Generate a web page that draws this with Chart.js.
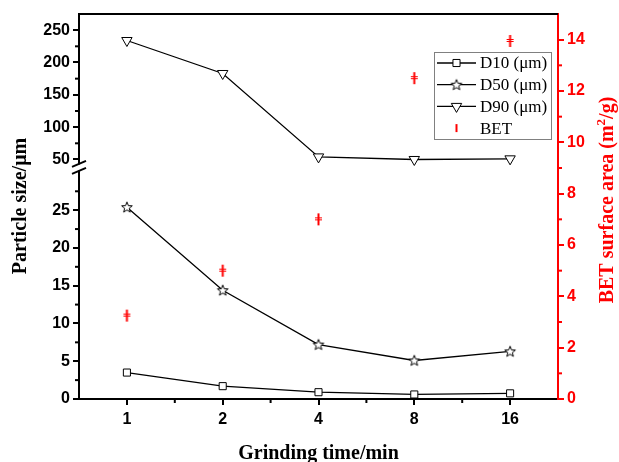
<!DOCTYPE html>
<html>
<head>
<meta charset="utf-8">
<script src="https://cdn.jsdelivr.net/npm/chart.js@4/dist/chart.umd.min.js"></script>
<style>
  html, body { margin: 0; padding: 0; background: #fff; }
  #wrap { width: 619px; height: 462px; position: relative; }
</style>
</head>
<body>
<div id="wrap"><canvas id="chart" width="619" height="462"></canvas></div>
<script>
// --- Data ---
const grindTimes = ['1', '2', '4', '8', '16'];
const d10 = [3.5, 1.7, 0.9, 0.6, 0.75];
const d50 = [25.4, 14.4, 7.2, 5.1, 6.3];
const d90 = [234, 183, 54, 50, 51];
const bet = [3.25, 5.0, 7.0, 12.5, 13.95];

const lowTicks = [0, 5, 10, 15, 20, 25];
const lowMinor = [2.5, 7.5, 12.5, 17.5, 22.5, 27.5];
const highTicks = [50, 100, 150, 200, 250];
const highMinor = [75, 125, 175, 225];
const betTicks = [0, 2, 4, 6, 8, 10, 12, 14];
const betMinor = [1, 3, 5, 7, 9, 11, 13];

const RED = '#ff0000';
const tickFont = { family: 'Liberation Sans', weight: 'bold', size: 16 };

// --- Point styles ---
function starCanvas() {
    const c = document.createElement('canvas');
    c.width = 14; c.height = 14;
    const g = c.getContext('2d');
    g.beginPath();
    for (let i = 0; i < 10; i++) {
        const r = i % 2 === 0 ? 5.6 : 2.4;
        const a = -Math.PI / 2 + i * Math.PI / 5;
        const px = 7 + r * Math.cos(a), py = 7.4 + r * Math.sin(a);
        if (i === 0) g.moveTo(px, py); else g.lineTo(px, py);
    }
    g.closePath();
    g.fillStyle = '#fff';
    g.fill();
    g.strokeStyle = '#000';
    g.lineWidth = 1;
    g.stroke();
    return c;
}

function betCanvas() {
    const c = document.createElement('canvas');
    c.width = 9; c.height = 14;
    const g = c.getContext('2d');
    g.strokeStyle = RED;
    g.lineWidth = 2;
    g.beginPath();
    g.moveTo(4.5, 1); g.lineTo(4.5, 13);
    g.stroke();
    g.lineWidth = 1;
    g.beginPath();
    g.moveTo(1, 5.5); g.lineTo(8, 5.5);
    g.moveTo(1, 7.5); g.lineTo(8, 7.5);
    g.stroke();
    return c;
}

const starImg = starCanvas();
const betImg = betCanvas();

function fixTicks(list) {
    return scale => { scale.ticks = list.map(v => ({ value: v })); };
}

// --- Decorations: frame, break, minor ticks, titles, legend ---
const decorations = {
    id: 'decorations',
    afterDraw(chart) {
        const ctx = chart.ctx;
        const area = chart.chartArea;
        const s = chart.scales;
        ctx.save();

        // top frame
        ctx.strokeStyle = '#000';
        ctx.lineWidth = 2;
        ctx.beginPath();
        ctx.moveTo(area.left - 1, area.top);
        ctx.lineTo(area.right, area.top);
        ctx.stroke();

        // minor ticks
        const minorY = (scale, vals, x, dir, color) => {
            ctx.strokeStyle = color;
            ctx.lineWidth = 2;
            vals.forEach(v => {
                const y = scale.getPixelForValue(v);
                ctx.beginPath();
                ctx.moveTo(x, y);
                ctx.lineTo(x + dir * 4, y);
                ctx.stroke();
            });
        };
        minorY(s.yLow, lowMinor, area.left, -1, '#000');
        minorY(s.yHigh, highMinor, area.left, -1, '#000');
        minorY(s.yBET, betMinor, area.right, 1, RED);
        ctx.strokeStyle = '#000';
        for (let i = 0; i < grindTimes.length - 1; i++) {
            const x = (s.x.getPixelForTick(i) + s.x.getPixelForTick(i + 1)) / 2;
            ctx.beginPath();
            ctx.moveTo(x, area.bottom);
            ctx.lineTo(x, area.bottom + 4);
            ctx.stroke();
        }

        // axis break
        const yb = s.yLow.top - 5;
        const xb = area.left;
        ctx.fillStyle = '#fff';
        ctx.fillRect(xb - 2, yb - 3, 4, 6);
        ctx.strokeStyle = '#000';
        ctx.lineWidth = 2;
        [-3.5, 3.5].forEach(d => {
            ctx.beginPath();
            ctx.moveTo(xb - 7, yb + d + 3);
            ctx.lineTo(xb + 7, yb + d - 3);
            ctx.stroke();
        });

        // axis titles
        ctx.fillStyle = '#000';
        ctx.font = 'bold 20px "Liberation Serif"';
        ctx.textAlign = 'center';
        ctx.textBaseline = 'middle';
        ctx.save();
        ctx.translate(21, 206);
        ctx.rotate(-Math.PI / 2);
        ctx.fillText('Particle size/\u03bcm', 0, 0);
        ctx.restore();

        ctx.textBaseline = 'alphabetic';
        ctx.fillText('Grinding time/min', (area.left + area.right) / 2, 459);

        // right title with superscript
        ctx.save();
        ctx.translate(613, 200);
        ctx.rotate(-Math.PI / 2);
        ctx.fillStyle = RED;
        const partA = 'BET surface area (m';
        const partB = '/g)';
        ctx.font = 'bold 20px "Liberation Serif"';
        const wA = ctx.measureText(partA).width;
        const wB = ctx.measureText(partB).width;
        ctx.font = 'bold 13px "Liberation Serif"';
        const wS = ctx.measureText('2').width;
        let x0 = -(wA + wS + wB) / 2;
        ctx.textAlign = 'left';
        ctx.font = 'bold 20px "Liberation Serif"';
        ctx.fillText(partA, x0, 0);
        ctx.font = 'bold 13px "Liberation Serif"';
        ctx.fillText('2', x0 + wA, -8);
        ctx.font = 'bold 20px "Liberation Serif"';
        ctx.fillText(partB, x0 + wA + wS, 0);
        ctx.restore();

        // legend
        const lx = 434, ly = 52, lw = 117, lh = 87;
        ctx.fillStyle = '#fff';
        ctx.fillRect(lx, ly, lw, lh);
        ctx.strokeStyle = '#808080';
        ctx.lineWidth = 1;
        ctx.strokeRect(lx + 0.5, ly + 0.5, lw, lh);
        ctx.font = '17px "Liberation Serif"';
        ctx.textAlign = 'left';
        ctx.textBaseline = 'middle';
        chart.data.datasets.forEach((ds, i) => {
            const y = 63 + i * 21.7;
            if (ds.yAxisID === 'yBET') {
                ctx.strokeStyle = RED;
                ctx.lineWidth = 2;
                ctx.beginPath();
                ctx.moveTo(456.5, y - 4);
                ctx.lineTo(456.5, y + 4);
                ctx.stroke();
            } else {
                ctx.strokeStyle = '#000';
                ctx.lineWidth = 1.3;
                ctx.beginPath();
                ctx.moveTo(437, y);
                ctx.lineTo(476, y);
                ctx.stroke();
                ctx.fillStyle = '#fff';
                ctx.strokeStyle = '#000';
                ctx.lineWidth = 1;
                Chart.helpers.drawPoint(ctx, {
                    pointStyle: ds.pointStyle,
                    rotation: ds.pointRotation || 0,
                    radius: ds.pointRadius,
                    borderWidth: 1
                }, 456.5, y);
            }
            ctx.fillStyle = '#000';
            ctx.fillText(ds.label, 480, y + 1);
        });

        ctx.restore();
    }
};

const ctx = document.getElementById('chart').getContext('2d');
new Chart(ctx, {
    type: 'line',
    data: {
        labels: grindTimes,
        datasets: [
            { label: 'D10 (\u03bcm)', data: d10, yAxisID: 'yLow', borderColor: '#000', borderWidth: 1.3,
              pointStyle: 'rect', pointRadius: 5, pointBackgroundColor: '#fff', pointBorderColor: '#000', pointBorderWidth: 1 },
            { label: 'D50 (\u03bcm)', data: d50, yAxisID: 'yLow', borderColor: '#000', borderWidth: 1.3,
              pointStyle: starImg, pointRadius: 6 },
            { label: 'D90 (\u03bcm)', data: d90, yAxisID: 'yHigh', borderColor: '#000', borderWidth: 1.3,
              pointStyle: 'triangle', pointRotation: 180, pointRadius: 6, pointBackgroundColor: '#fff', pointBorderColor: '#000', pointBorderWidth: 1 },
            { label: 'BET', data: bet, yAxisID: 'yBET', showLine: false,
              pointStyle: betImg, pointRadius: 6 }
        ]
    },
    options: {
        responsive: false,
        animation: false,
        events: [],
        layout: { padding: { top: 14, left: 0, right: 0, bottom: 0 } },
        plugins: { legend: { display: false }, tooltip: { enabled: false } },
        scales: {
            x: {
                type: 'category',
                offset: true,
                grid: { drawOnChartArea: false, drawTicks: true, tickLength: 6, color: '#000', lineWidth: 2 },
                border: { display: true, color: '#000', width: 2 },
                ticks: { font: tickFont, color: '#000', padding: 5, maxRotation: 0 },
                afterFit: sc => { sc.height = 63; }
            },
            yLow: {
                type: 'linear',
                position: 'left',
                stack: 'left',
                stackWeight: 226,
                min: 0, max: 30,
                afterBuildTicks: fixTicks(lowTicks),
                grid: { drawOnChartArea: false, drawTicks: true, tickLength: 6, color: '#000', lineWidth: 2 },
                border: { display: true, color: '#000', width: 2 },
                ticks: { font: tickFont, color: '#000', padding: 3 },
                afterFit: sc => { sc.width = 79; }
            },
            yHigh: {
                type: 'linear',
                position: 'left',
                stack: 'left',
                stackWeight: 158,
                min: 30, max: 275,
                afterBuildTicks: fixTicks(highTicks),
                grid: { drawOnChartArea: false, drawTicks: true, tickLength: 6, color: '#000', lineWidth: 2 },
                border: { display: true, color: '#000', width: 2 },
                ticks: { font: tickFont, color: '#000', padding: 3 },
                afterFit: sc => { sc.width = 79; }
            },
            yBET: {
                type: 'linear',
                position: 'right',
                min: 0, max: 15,
                afterBuildTicks: fixTicks(betTicks),
                grid: { drawOnChartArea: false, drawTicks: true, tickLength: 6, color: RED, lineWidth: 2 },
                border: { display: true, color: RED, width: 2 },
                ticks: { font: tickFont, color: RED, padding: 3 },
                afterFit: sc => { sc.width = 61; }
            }
        }
    },
    plugins: [decorations]
});
</script>
</body>
</html>
